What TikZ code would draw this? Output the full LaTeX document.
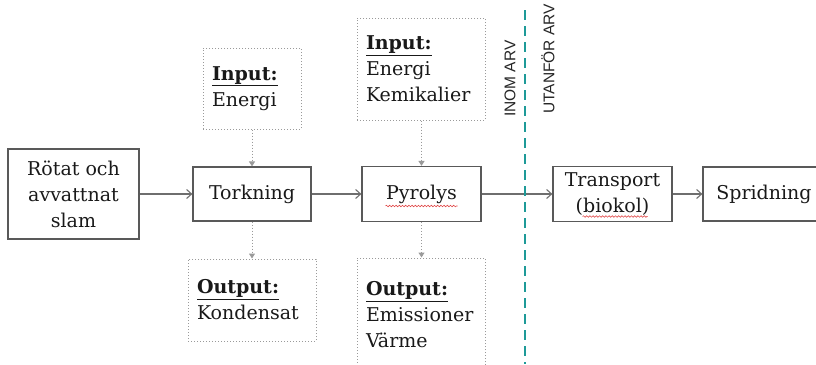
\documentclass[tikz,border=0pt]{standalone}
\usepackage{fontspec}
\setmainfont{DejaVu Serif}
\newfontfamily\labfont{Liberation Sans}
\usetikzlibrary{decorations.pathmorphing,arrows.meta}
\definecolor{boxc}{HTML}{595959}
\definecolor{arrc}{HTML}{6E6E6E}
\definecolor{dotc}{HTML}{9A9A9A}
\definecolor{tealc}{HTML}{1E9A98}
\definecolor{squigc}{HTML}{E04848}
\begin{document}
\begin{tikzpicture}[x=1pt,y=-1pt,
  txt/.style={font=\fontsize{19}{26}\selectfont, text=black!90},
  mainbox/.style={draw=boxc, line width=1.2pt, txt, align=center, inner sep=0pt},
  iobox/.style={draw=dotc, dotted, line width=1pt, txt, align=left, inner xsep=9pt, inner ysep=0pt},
  flow/.style={draw=arrc, line width=1.1pt, -{Straight Barb[length=5pt,width=9pt]}},
  dflow/.style={draw=dotc, dotted, line width=1pt, -{Triangle[length=5pt,width=6pt]}},
  vlabel/.style={font=\labfont\fontsize{15.5}{18}\selectfont, rotate=90, anchor=west, inner sep=0pt, text=black!85},
  squig/.style={draw=squigc, line width=0.6pt, decorate, decoration={snake, amplitude=0.8pt, segment length=3.2pt}}
]
\useasboundingbox (0,0) rectangle (816,364);
\clip (0,0) rectangle (816,364);

% main chain
\node[mainbox, minimum width=131pt, minimum height=90pt] (rot) at (73.5,194) {Rötat och\\avvattnat\\slam};
\node[mainbox, minimum width=118pt, minimum height=54pt] (tork) at (252,194) {Torkning};
\node[mainbox, minimum width=119pt, minimum height=55pt] (pyr) at (421.5,194) {Pyrolys};
\node[mainbox, minimum width=119pt, minimum height=55pt] (tr) at (612.5,194) {Transport\\(biokol)};
\node[mainbox, minimum width=122pt, minimum height=54pt] (spr) at (764,194) {Spridning};

% input / output boxes
\node[iobox, text width=80pt, minimum height=81pt] (in1) at (252,88.5) {\underline{\textbf{Input:}}\\Energi};
\node[iobox, text width=110pt, minimum height=102pt] (in2) at (421,69) {\underline{\textbf{Input:}}\\Energi\\Kemikalier};
\node[iobox, text width=110pt, minimum height=82pt] (out1) at (252,300) {\underline{\textbf{Output:}}\\Kondensat};
\node[iobox, text width=110pt, minimum height=114pt] (out2) at (421,315) {\underline{\textbf{Output:}}\\Emissioner\\Värme};

% connectors
\draw[flow] (rot) -- (tork);
\draw[flow] (tork) -- (pyr);
\draw[flow] (pyr) -- (tr);
\draw[flow] (tr) -- (spr);
\draw[dflow] (in1) -- (tork);
\draw[dflow] (tork) -- (out1);
\draw[dflow] (in2.south -| pyr.north) -- (pyr);
\draw[dflow] (pyr) -- (out2.north -| pyr.south);

% boundary
\draw[tealc, line width=2.4pt, dash pattern=on 10pt off 6pt] (525,10) -- (525,364);
\node[vlabel] (inom) at (510,117) {INOM ARV};
\node[vlabel] (utan) at (548,114) {UTANFÖR ARV};

% spell-check squiggles
\draw[squig] ([xshift=-36pt,yshift=-12pt]pyr.center) -- ([xshift=36pt,yshift=-12pt]pyr.center);
\draw[squig] ([xshift=-30pt,yshift=-22.5pt]tr.center) -- ([xshift=35pt,yshift=-22.5pt]tr.center);
\end{tikzpicture}
\end{document}
